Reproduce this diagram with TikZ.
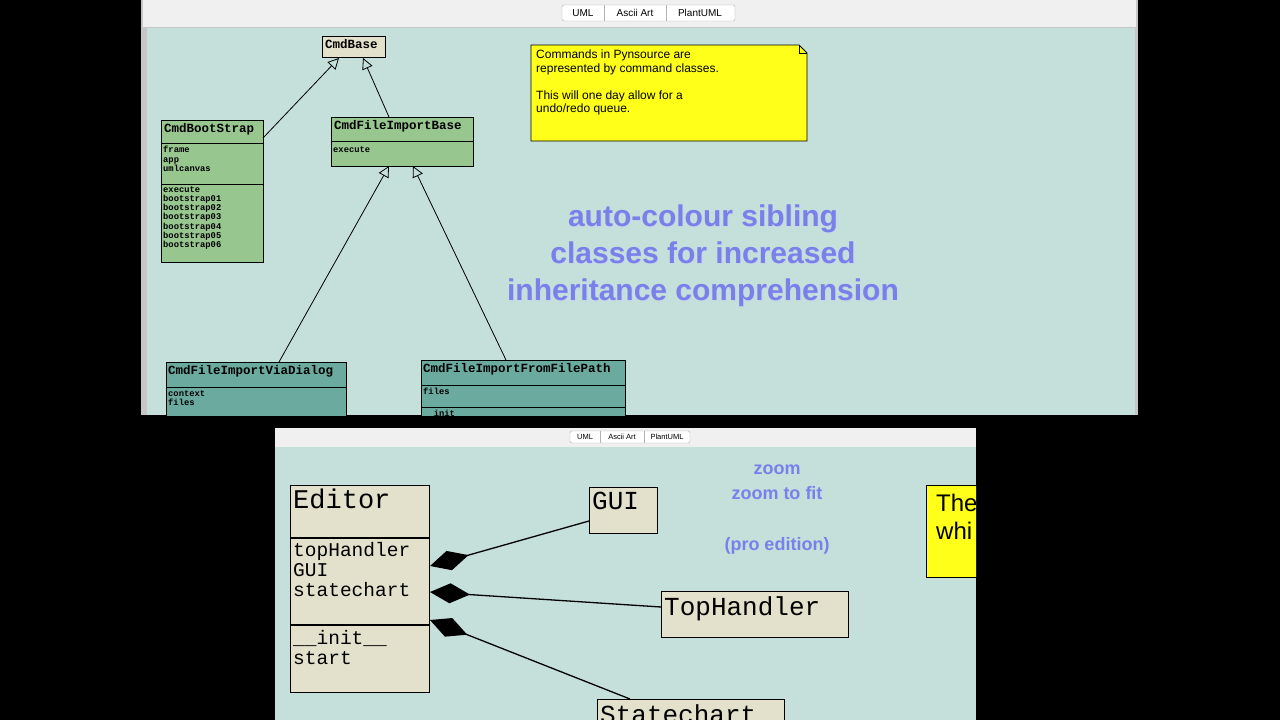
\documentclass[tikz,border=0pt]{standalone}
\usepackage{fontspec}
\setmainfont{Liberation Sans}
\newfontfamily\cour{Liberation Mono}
\usetikzlibrary{arrows.meta}
\definecolor{bgc}{HTML}{C5DFDA}
\definecolor{beige}{HTML}{E3E1CB}
\definecolor{green1}{HTML}{97C68F}
\definecolor{teal1}{HTML}{6BAA9F}
\definecolor{blu}{HTML}{7A80EA}
\definecolor{ylw}{HTML}{FFFF1A}
\tikzset{
 box/.style={draw=black, line width=1pt, inner sep=0pt, anchor=north west},
 lbl/.style={anchor=north west, inner sep=0pt, font=\cour\bfseries\fontsize{12.5}{12.5}\selectfont},
 small/.style={anchor=north west, inner sep=0pt, align=left, font=\cour\bfseries\fontsize{8.8}{9.3}\selectfont},
 big/.style={anchor=north west, inner sep=0pt, align=left},
 inh/.style={draw, line width=0.8pt, -{Triangle[open,length=11pt,width=11pt]}},
 comp/.style={draw, line width=1.3pt, {Diamond[length=40pt,width=20pt]}-},
 tab/.style={inner sep=0pt, font=\fontsize{10}{10}\selectfont},
 blutxt/.style={text=blu, font=\bfseries\fontsize{30}{37}\selectfont, align=center},
}
\begin{document}
\begin{tikzpicture}[x=1pt,y=-1pt]
\useasboundingbox (0,0) rectangle (1280,720);
\fill[black] (0,0) rectangle (1280,720);
% ---------- top window
\fill[gray!45] (141,0) rectangle (1138,415);
\fill[gray!12] (143,0) rectangle (1136,27);
\fill[bgc] (147,28) rectangle (1135,415);
\draw[gray!60, fill=white, rounded corners=2pt] (562,5) rectangle (735,21);
\draw[gray!60] (604,5) -- (604,21) (666,5) -- (666,21);
\node[tab] at (583,13) {UML};
\node[tab] at (635,13) {Ascii Art};
\node[tab] at (700,13) {PlantUML};
\begin{scope}
\clip (147,28) rectangle (1135,415);
% note
\fill[ylw, draw=black, line width=0.8pt] (531,45) -- (799,45) -- (807,53) -- (807,141) -- (531,141) -- cycle;
\draw[line width=0.6pt] (799,45) -- (799,53) -- (807,53);
\node[anchor=north west, inner sep=0pt, align=left, font=\fontsize{12}{13.5}\selectfont] (note) at (536,50)
 {Commands in Pynsource are\\represented by command classes.\\[13.5pt]This will one day allow for a\\undo/redo queue.};
% CmdBase
\node[box, fill=beige, minimum width=63pt, minimum height=21pt] (base) at (322,36) {};
\node[lbl] at (325,39) {CmdBase};
% CmdBootStrap
\node[box, fill=green1, minimum width=102pt, minimum height=142pt] (boot) at (161,120) {};
\draw[line width=0.8pt] (161,143) -- (263,143) (161,184) -- (263,184);
\node[lbl] at (164,123) {CmdBootStrap};
\node[small] at (163,146) {frame\\app\\umlcanvas};
\node[small] at (163,186) {execute\\bootstrap01\\bootstrap02\\bootstrap03\\bootstrap04\\bootstrap05\\bootstrap06};
% CmdFileImportBase
\node[box, fill=green1, minimum width=142pt, minimum height=49pt] (fib) at (331,117) {};
\draw[line width=0.8pt] (331,141) -- (473,141);
\node[lbl] at (334,120) {CmdFileImportBase};
\node[small] at (333,146) {execute};
% ViaDialog
\node[box, fill=teal1, minimum width=180pt, minimum height=70pt] (via) at (166,362) {};
\draw[line width=0.8pt] (166,387) -- (346,387);
\node[lbl] at (168,365) {CmdFileImportViaDialog};
\node[small] at (168,390) {context\\files};
% FromFilePath
\node[box, fill=teal1, minimum width=204pt, minimum height=70pt] (ffp) at (421,360) {};
\draw[line width=0.8pt] (421,385) -- (625,385) (421,407) -- (625,407);
\node[lbl] at (423,363) {CmdFileImportFromFilePath};
\node[small] at (423,388) {files};
\node[small] at (423,410) {\_\_init\_\_};
% arrows
\coordinate (b1) at (339,58); \coordinate (b2) at (363,58);
\coordinate (f1) at (389,166); \coordinate (f2) at (413,166);
\draw[inh] (263,138) -- (b1);
\draw[inh] (389,117) -- (b2);
\draw[inh] (279,362) -- (f1);
\draw[inh] (506,360) -- (f2);
% blue text
\node[blutxt, text=blu!40, opacity=0.6] at (703.8,256.8) {auto-colour sibling\\classes for increased\\inheritance comprehension};
\node[blutxt] (blue) at (703,256) {auto-colour sibling\\classes for increased\\inheritance comprehension};
\end{scope}
% ---------- bottom window
\fill[gray!12] (275,428) rectangle (976,447);
\fill[bgc] (275,447) rectangle (976,720);
\draw[gray!60, fill=white, rounded corners=1.5pt] (570,431) rectangle (690,443);
\draw[gray!60] (600,431) -- (600,443) (644,431) -- (644,443);
\node[tab, font=\fontsize{7.5}{7.5}\selectfont] at (585,437) {UML};
\node[tab, font=\fontsize{7.5}{7.5}\selectfont] at (622,437) {Ascii Art};
\node[tab, font=\fontsize{7.5}{7.5}\selectfont] at (667,437) {PlantUML};
\begin{scope}
\clip (275,447) rectangle (976,720);
\node[box, fill=beige, minimum width=139pt, minimum height=207pt] (ed) at (290,485) {};
\draw[line width=1.3pt] (290,538) -- (429,538) (290,625) -- (429,625);
\node[big, font=\cour\fontsize{27}{27}\selectfont] at (293,489) {Editor};
\node[big, font=\cour\fontsize{19.5}{20}\selectfont] at (293,542) {topHandler\\GUI\\statechart};
\node[big, font=\cour\fontsize{19.5}{20}\selectfont] at (293,630) {\_\_init\_\_\\start};
\node[box, fill=beige, minimum width=68pt, minimum height=46pt] (gui) at (589,487) {};
\node[big, font=\cour\fontsize{26}{26}\selectfont] at (592,492) {GUI};
\node[box, fill=beige, minimum width=187pt, minimum height=46pt] (th) at (661,591) {};
\node[big, font=\cour\fontsize{26}{26}\selectfont] at (664,596) {TopHandler};
\node[box, fill=beige, minimum width=187pt, minimum height=46pt] (sc) at (597,699) {};
\node[big, font=\cour\fontsize{26}{26}\selectfont] at (600,704) {Statechart};
\coordinate (d1) at (430,566); \coordinate (d2) at (430,592); \coordinate (d3) at (430,620);
\draw[comp] (d1) -- (589,521);
\draw[comp] (d2) -- (661,607);
\draw[comp] (d3) -- (630,699);
\fill[ylw, draw=black, line width=0.8pt] (926,485) rectangle (990,577);
\node[anchor=north west, inner sep=0pt, align=left, font=\fontsize{24}{28}\selectfont] (note2) at (936,494) {The\\whi};
\node[text=blu, font=\bfseries\fontsize{18}{25}\selectfont, align=center] (z) at (777,482) {zoom\\zoom to fit};
\node[text=blu, font=\bfseries\fontsize{18}{25}\selectfont] (pro) at (777,546) {(pro edition)};
\end{scope}
\end{tikzpicture}
\end{document}
